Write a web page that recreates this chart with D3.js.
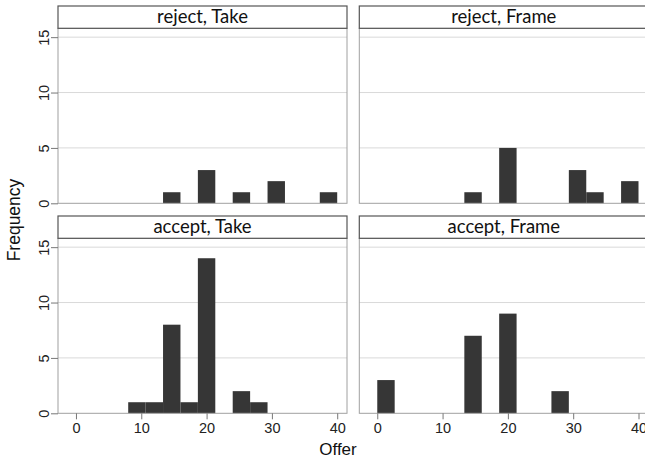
<!DOCTYPE html>
<html>
<head>
<meta charset="utf-8">
<script src="https://cdn.jsdelivr.net/npm/d3@7"></script>
<style>
  html, body { margin: 0; padding: 0; background: #fff; }
  svg { display: block; }
</style>
</head>
<body>
<svg id="chart" width="645" height="461"></svg>
<script>
// ---- data ----
const binStart = 0;
const binWidth = 40 / 15;
const panelTitles = ["reject, Take", "reject, Frame", "accept, Take", "accept, Frame"];
const rejectTake  = [0,0,0,0,0,1,0,3,0,1,0,2,0,0,1];
const rejectFrame = [0,0,0,0,0,1,0,5,0,0,0,3,1,0,2];
const acceptTake  = [0,0,0,1,1,8,1,14,0,2,1,0,0,0,0];
const acceptFrame = [3,0,0,0,0,7,0,9,0,0,2,0,0,0,0];
const xTicks = [0, 10, 20, 30, 40];
const yTicks = [0, 5, 10, 15];
const xTitle = "Offer";
const yTitle = "Frequency";

const panelData = [rejectTake, rejectFrame, acceptTake, acceptFrame];

// ---- layout ----
const svg = d3.select("#chart");
const panelW = 289, gapX = 12.3;
const colX = [58, 58 + panelW + gapX];
const stripTop = [6, 216];
const stripH = 22.3;
const plotH = 175;

const x = d3.scaleLinear().domain([-2.75, 41.5]).range([0, panelW]);
const y = d3.scaleLinear().domain([0, 15.8]).range([plotH, 0]);

panelData.forEach((counts, k) => {
  const row = Math.floor(k / 2), col = k % 2;
  const px = colX[col], sy = stripTop[row], py = sy + stripH;
  const g = svg.append("g").attr("transform", `translate(${px},${py})`);

  // grid lines
  g.selectAll("line.grid").data(yTicks.filter(t => t > 0)).enter()
    .append("line")
    .attr("x1", 0).attr("x2", panelW)
    .attr("y1", d => y(d)).attr("y2", d => y(d))
    .attr("stroke", "#d9d9d9").attr("stroke-width", 1);

  // bars
  const bins = counts.map((c, i) => ({ x0: binStart + i * binWidth, x1: binStart + (i + 1) * binWidth, c }))
    .filter(d => d.c > 0);
  g.selectAll("rect.bar").data(bins).enter()
    .append("rect")
    .attr("x", d => x(d.x0))
    .attr("width", d => x(d.x1) - x(d.x0))
    .attr("y", d => y(d.c))
    .attr("height", d => y(0) - y(d.c))
    .attr("fill", "#363636");

  // panel frame
  g.append("rect")
    .attr("x", 0).attr("y", 0).attr("width", panelW).attr("height", plotH)
    .attr("fill", "none").attr("stroke", "#a0a0a0").attr("stroke-width", 1);

  // strip
  const s = svg.append("g").attr("transform", `translate(${px},${sy})`);
  s.append("rect")
    .attr("x", 0).attr("y", 0).attr("width", panelW).attr("height", stripH)
    .attr("fill", "#fff").attr("stroke", "#555").attr("stroke-width", 1.2);
  s.append("text")
    .attr("x", panelW / 2).attr("y", stripH / 2 + 1)
    .attr("text-anchor", "middle").attr("dominant-baseline", "middle")
    .attr("font-family", "Lato, 'Open Sans', sans-serif")
    .attr("font-size", 18.5)
    .attr("fill", "#111")
    .text(panelTitles[k]);

  // y axis on left column
  if (col === 0) {
    const ya = d3.axisLeft(y).tickValues(yTicks).tickSize(7).tickSizeOuter(0).tickFormat(d3.format("d"));
    const ag = g.append("g").call(ya);
    ag.select(".domain").remove();
    ag.selectAll(".tick line").attr("stroke", "#777");
    ag.selectAll(".tick text")
      .attr("font-family", "'Liberation Sans', Arial, sans-serif")
      .attr("font-size", 14.5).attr("fill", "#222")
      .attr("transform", "rotate(-90)")
      .attr("x", 0).attr("y", -18)
      .attr("dy", "0.35em")
      .attr("text-anchor", "middle")
      .attr("dominant-baseline", "middle");
  }
  // x axis on bottom row
  if (row === 1) {
    const xa = d3.axisBottom(x).tickValues(xTicks).tickSize(6).tickSizeOuter(0).tickFormat(d3.format("d"));
    const ag = g.append("g").attr("transform", `translate(0,${plotH})`).call(xa);
    ag.select(".domain").remove();
    ag.selectAll(".tick line").attr("stroke", "#777");
    ag.selectAll(".tick text")
      .attr("font-family", "'Liberation Sans', Arial, sans-serif")
      .attr("font-size", 14.5).attr("fill", "#222")
      .attr("y", 9);
  }
});

// axis titles
svg.append("text")
  .attr("x", 338).attr("y", 451)
  .attr("text-anchor", "middle").attr("dominant-baseline", "middle")
  .attr("font-family", "'Liberation Sans', Arial, sans-serif")
  .attr("font-size", 17).attr("fill", "#111")
  .text(xTitle);
svg.append("text")
  .attr("transform", "translate(15,220) rotate(-90)")
  .attr("text-anchor", "middle").attr("dominant-baseline", "middle")
  .attr("font-family", "'Liberation Sans', Arial, sans-serif")
  .attr("font-size", 17.5).attr("fill", "#111")
  .text(yTitle);
</script>
</body>
</html>
